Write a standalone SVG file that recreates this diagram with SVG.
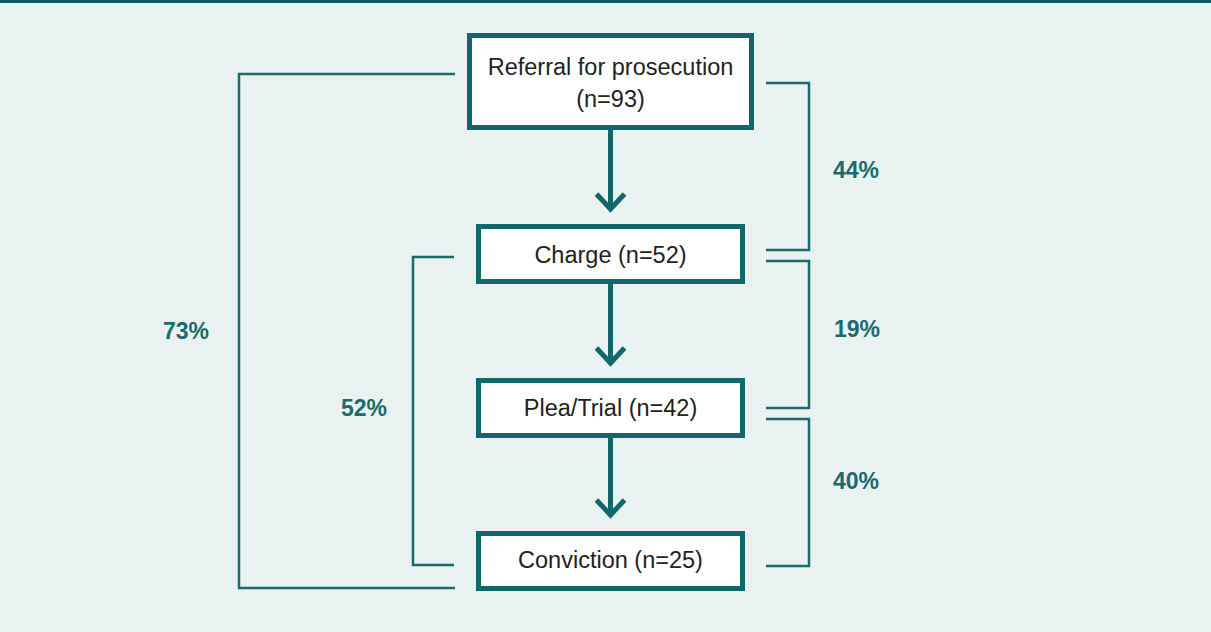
<svg xmlns="http://www.w3.org/2000/svg" width="1211" height="632" viewBox="0 0 1211 632">
<style>
.box{fill:#ffffff;stroke:#11676a;stroke-width:5}
.lbl{font-family:"Liberation Sans",Arial,sans-serif;font-size:23.5px;fill:#222222;text-anchor:middle}
.pct{font-family:"Liberation Sans",Arial,sans-serif;font-size:23px;font-weight:bold;fill:#1a6b6c;text-anchor:middle}
.br{fill:none;stroke:#1a6b6c;stroke-width:2.5}
.ar{fill:none;stroke:#11676a;stroke-width:5}
</style>
<defs>
<marker id="chev" markerUnits="userSpaceOnUse" viewBox="-22 -18 26 36" markerWidth="26" markerHeight="36" refX="0" refY="0" orient="auto">
<polyline points="-15,-14 0,0 -15,14" fill="none" stroke="#11676a" stroke-width="5"/>
</marker>
</defs>
<rect x="0" y="0" width="1211" height="632" fill="#e9f2f1"/>
<rect x="0" y="0" width="1211" height="3" fill="#0e5a5e"/>
<g id="connectors">
<path class="ar" d="M610.5,130 V209" marker-end="url(#chev)"/>
<path class="ar" d="M610.5,284 V363" marker-end="url(#chev)"/>
<path class="ar" d="M610.5,438 V515" marker-end="url(#chev)"/>
<path class="br" d="M455,74 H239 V588 H455"/>
<path class="br" d="M454,257 H413 V565 H454"/>
<path class="br" d="M766,83 H809 V250 H766"/>
<path class="br" d="M766,261 H809 V408 H766"/>
<path class="br" d="M766,419 H809 V566 H766"/>
<text class="pct" x="186" y="339">73%</text>
<text class="pct" x="364" y="416">52%</text>
<text class="pct" x="856" y="178">44%</text>
<text class="pct" x="857" y="337">19%</text>
<text class="pct" x="856" y="489">40%</text>
</g>
<g id="referral">
<rect class="box" x="469.5" y="35.5" width="282" height="92"/>
<text class="lbl" x="610.5" y="75">Referral for prosecution</text>
<text class="lbl" x="610.5" y="107">(n=93)</text>
</g>
<g id="charge">
<rect class="box" x="478.5" y="226.5" width="264" height="55"/>
<text class="lbl" x="610.5" y="263">Charge (n=52)</text>
</g>
<g id="plea">
<rect class="box" x="478.5" y="380.5" width="264" height="55"/>
<text class="lbl" x="610.5" y="416">Plea/Trial (n=42)</text>
</g>
<g id="conviction">
<rect class="box" x="478.5" y="533.5" width="264" height="55"/>
<text class="lbl" x="610.5" y="568">Conviction (n=25)</text>
</g>
</svg>
